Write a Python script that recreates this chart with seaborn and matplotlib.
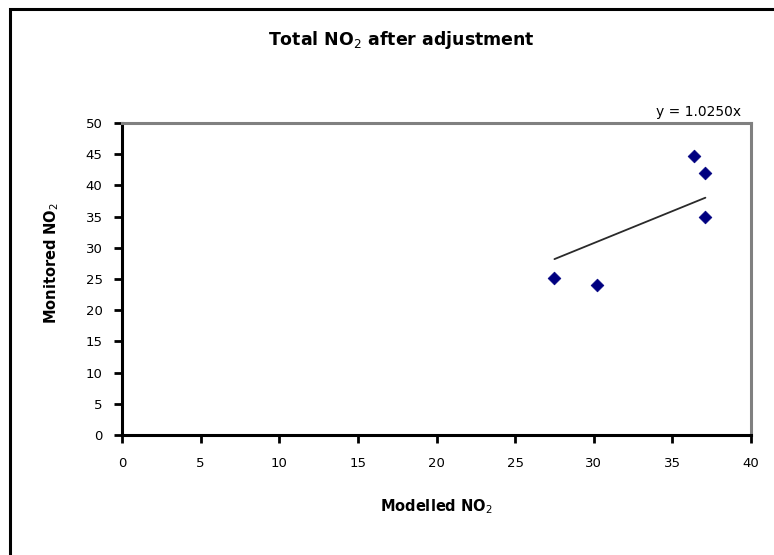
"""Scatter of monitored vs modelled NO2 after adjustment."""

import numpy as np
import pandas as pd
import matplotlib
matplotlib.use("Agg")
import matplotlib.pyplot as plt
import seaborn as sns
from matplotlib.lines import Line2D

# Data
modelled = [27.5, 30.2, 36.4, 37.1, 37.1]
monitored = [25.1, 24.0, 44.7, 42.0, 35.0]
slope = 1.0250
x_ticks = list(range(0, 45, 5))
y_ticks = list(range(0, 55, 5))

sns.set_theme(style="white")
plt.rcParams["font.family"] = ["DejaVu Sans"]
plt.rcParams["text.color"] = "black"
plt.rcParams["axes.labelcolor"] = "black"
plt.rcParams["xtick.labelcolor"] = "black"
plt.rcParams["ytick.labelcolor"] = "black"

df = pd.DataFrame({"modelled": modelled, "monitored": monitored})
trend_x = np.array([min(modelled), max(modelled)])
trend = pd.DataFrame({"x": trend_x, "y": slope * trend_x})

W, H = 774, 555
fig = plt.figure(figsize=(W / 100, H / 100), dpi=100)
ax = fig.add_axes([122 / W, 1 - 435 / H, (751 - 122) / W, (435 - 123) / H])

# outer chart frame (only top and left edges visible)
fig.lines.append(Line2D([10 / W, 10 / W, 1.0], [0.0, 1 - 9 / H, 1 - 9 / H],
                        transform=fig.transFigure, color="black",
                        linewidth=2.2, solid_joinstyle="miter"))

sns.lineplot(data=trend, x="x", y="y", ax=ax, color="#2a2a2a", linewidth=1.3)
sns.scatterplot(data=df, x="modelled", y="monitored", ax=ax, marker="D",
                s=42, color="#000080", edgecolor="#000080", zorder=3)

ax.set_xlim(0, 40)
ax.set_ylim(0, 50)
ax.set_xticks(x_ticks)
ax.set_yticks(y_ticks)
ax.tick_params(axis="both", direction="out", length=6, width=2,
               color="black", labelsize=9.5, bottom=True, left=True)
ax.tick_params(axis="x", pad=10)
ax.tick_params(axis="y", pad=8)

for side in ["left", "bottom"]:
    ax.spines[side].set_color("black")
    ax.spines[side].set_linewidth(2.2)
for side in ["top", "right"]:
    ax.spines[side].set_color("#808080")
    ax.spines[side].set_linewidth(2.2)

ax.set_xlabel("Modelled NO$_2$", fontsize=10.5, fontweight="bold")
ax.set_ylabel("Monitored NO$_2$", fontsize=10.5, fontweight="bold")
ax.xaxis.set_label_coords(0.5, -(507 - 435) / (435 - 123))
ax.yaxis.set_label_coords(-(122 - 52) / (751 - 122), 0.55)
ax.yaxis.label.set_va("center")
ax.xaxis.label.set_va("center")

fig.text(401 / W, 1 - 40 / H, "Total NO$_2$ after adjustment",
         ha="center", va="center", fontsize=12.5, fontweight="bold")
ax.text(0.985, 1.012, "y = 1.0250x", transform=ax.transAxes,
        ha="right", va="bottom", fontsize=10)

fig.savefig("out.png", dpi=100)
plt.close(fig)
